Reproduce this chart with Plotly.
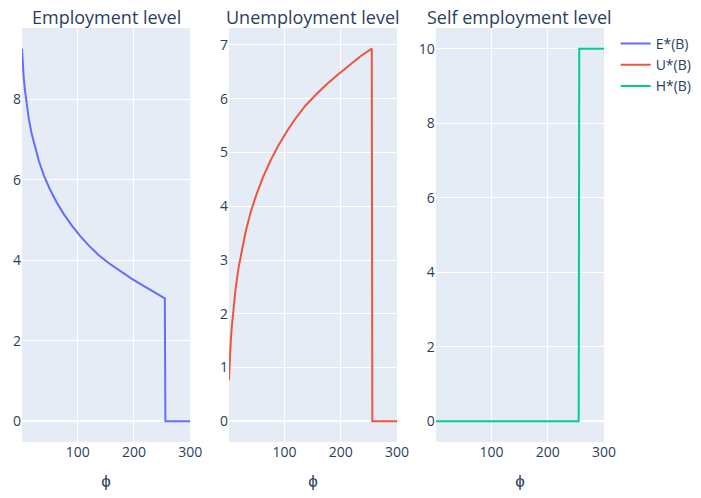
import plotly.graph_objects as go
from plotly.subplots import make_subplots

# phi grid (curve part, before the switch)
phi_curve = [1, 2, 4, 6, 9, 13, 18, 24, 31, 40, 50, 62, 75, 90, 105, 120, 137, 155, 175, 195, 215, 235, 255]
employment_curve = [9.25, 8.95, 8.55, 8.25, 7.90, 7.52, 7.15, 6.80, 6.46, 6.10, 5.78, 5.45, 5.15, 4.85, 4.59, 4.36, 4.13, 3.93, 3.73, 3.55, 3.38, 3.21, 3.05]
unemployment_curve = [0.76, 1.05, 1.45, 1.75, 2.10, 2.48, 2.85, 3.20, 3.54, 3.90, 4.22, 4.55, 4.85, 5.15, 5.41, 5.64, 5.87, 6.07, 6.27, 6.45, 6.62, 6.79, 6.93]
# after the switch
phi_tail = [256, 300]
employment_tail = [0, 0]
unemployment_tail = [0, 0]

phi_self = [1, 255, 256, 300]
self_employment = [0, 0, 10, 10]

phi = phi_curve + phi_tail
E = employment_curve + employment_tail
U = unemployment_curve + unemployment_tail

titles = ["Employment level", "Unemployment level", "Self employment level"]

fig = make_subplots(rows=1, cols=3, subplot_titles=titles)
fig.add_trace(go.Scatter(x=phi, y=E, mode="lines", name="E*(B)",
                         line=dict(color="#636efa")), row=1, col=1)
fig.add_trace(go.Scatter(x=phi, y=U, mode="lines", name="U*(B)",
                         line=dict(color="#EF553B")), row=1, col=2)
fig.add_trace(go.Scatter(x=phi_self, y=self_employment, mode="lines", name="H*(B)",
                         line=dict(color="#00cc96")), row=1, col=3)

for c in range(1, 4):
    fig.update_xaxes(title_text="ϕ", row=1, col=c, automargin=False)
    fig.update_yaxes(row=1, col=c, automargin=False)

fig.update_annotations(font_size=18, yshift=-3)

fig.update_layout(
    template="plotly",
    width=701, height=498,
    font=dict(size=14),
    margin=dict(l=14, r=105, t=20, b=64),
)
fig.write_html("out.html")
